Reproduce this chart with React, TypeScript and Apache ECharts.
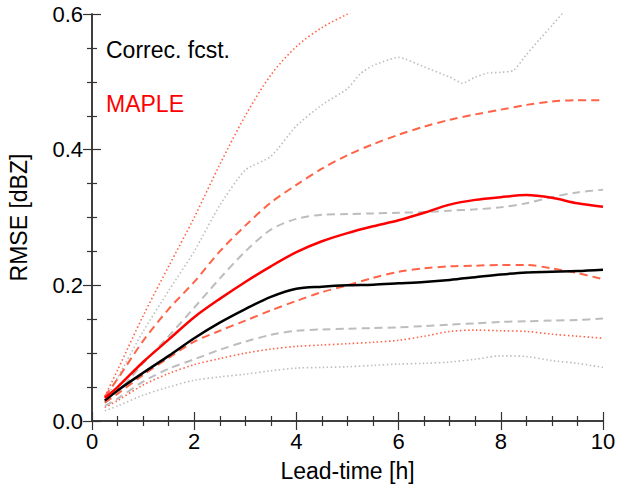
import React, { useEffect, useRef } from "react";
import * as echarts from "echarts";

// Lead times [h]
const leadTimes = [0.25, 0.5, 1, 1.5, 2, 2.5, 3, 3.5, 4, 4.5, 5, 5.5, 6, 6.5, 7, 7.5, 8, 8.5, 9, 9.5, 10];

// Corrected forecast (black / gray)
const correcMean = [0.030, 0.045, 0.071, 0.096, 0.122, 0.145, 0.165, 0.183, 0.195, 0.198, 0.200, 0.201, 0.203, 0.205, 0.208, 0.212, 0.216, 0.219, 0.220, 0.221, 0.223];
const correcDashHigh = [0.027, 0.042, 0.085, 0.125, 0.167, 0.210, 0.250, 0.282, 0.298, 0.304, 0.305, 0.306, 0.307, 0.308, 0.310, 0.312, 0.315, 0.321, 0.330, 0.337, 0.341];
const correcDashLow = [0.022, 0.033, 0.058, 0.077, 0.091, 0.105, 0.117, 0.127, 0.133, 0.135, 0.136, 0.137, 0.138, 0.140, 0.142, 0.144, 0.146, 0.147, 0.148, 0.149, 0.151];
const correcDotLow = [0.015, 0.022, 0.038, 0.050, 0.060, 0.065, 0.069, 0.074, 0.078, 0.079, 0.080, 0.082, 0.084, 0.085, 0.087, 0.091, 0.096, 0.095, 0.089, 0.085, 0.079];
const correcDotHighTimes = [0.25, 0.5, 1, 1.5, 2, 2.5, 3, 3.5, 4, 4.5, 5, 5.25, 5.5, 6, 6.5, 7, 7.25, 7.5, 7.75, 8, 8.25, 8.5, 8.75, 9, 9.25, 9.5, 10];
const correcDotHigh = [0.030, 0.064, 0.132, 0.192, 0.250, 0.318, 0.370, 0.390, 0.435, 0.466, 0.490, 0.512, 0.524, 0.536, 0.522, 0.507, 0.498, 0.507, 0.513, 0.514, 0.517, 0.540, 0.562, 0.583, 0.605, 0.630, 0.680];

// MAPLE (red)
const mapleMean = [0.034, 0.050, 0.087, 0.120, 0.153, 0.180, 0.205, 0.228, 0.249, 0.265, 0.277, 0.287, 0.296, 0.307, 0.319, 0.326, 0.330, 0.333, 0.329, 0.321, 0.316];
const mapleDashHigh = [0.036, 0.062, 0.118, 0.165, 0.205, 0.250, 0.288, 0.322, 0.348, 0.372, 0.392, 0.408, 0.422, 0.434, 0.444, 0.452, 0.459, 0.466, 0.471, 0.473, 0.473];
const mapleDashLow = [0.027, 0.040, 0.068, 0.093, 0.117, 0.133, 0.148, 0.163, 0.177, 0.190, 0.200, 0.211, 0.220, 0.225, 0.228, 0.229, 0.230, 0.230, 0.225, 0.218, 0.209];
const mapleDotLow = [0.020, 0.030, 0.053, 0.070, 0.083, 0.092, 0.100, 0.106, 0.110, 0.112, 0.114, 0.116, 0.119, 0.125, 0.132, 0.134, 0.133, 0.132, 0.128, 0.125, 0.122];
const mapleDotHigh = [0.036, 0.075, 0.155, 0.228, 0.300, 0.378, 0.450, 0.510, 0.552, 0.580, 0.600, 0.620, 0.638, 0.655, 0.670, 0.682, 0.694, 0.705, 0.715, 0.725, 0.735];

const xTicks = [0, 2, 4, 6, 8, 10];
const yTicks = [0.0, 0.2, 0.4, 0.6];

const RED = "#ff0000";
const LRED = "#ff6347";
const GRAY = "#bdbdbd";
const FONT = "Liberation Sans, Arial, Helvetica, sans-serif";

function pairs(xs: number[], ys: number[]) {
  return xs.map((x, i) => [x, ys[i]]);
}

export default function App() {
  const ref = useRef<HTMLDivElement>(null);
  useEffect(() => {
    if (!ref.current) return;
    const chart = echarts.init(ref.current, undefined, { renderer: "svg" });
    const dot = [1.5, 2.5];
    const dash = [8, 5];
    const line = (name: string, xs: number[], ys: number[], color: string, type: any, width: number, z: number, smooth: any = 0.3) => ({
      name,
      type: "line",
      data: pairs(xs, ys),
      showSymbol: false,
      symbol: "none",
      smooth,
      clip: true,
      z,
      lineStyle: { color, width, type, cap: "butt" },
    });
    const axisCommon = {
      axisLine: { show: true, lineStyle: { color: "#333", width: 1.5 } },
      axisTick: { show: true, inside: true, length: 9, lineStyle: { color: "#333", width: 1.2 } },
      minorTick: { show: true, splitNumber: 4, length: 5, lineStyle: { color: "#333", width: 1.2 } },
      splitLine: { show: false },
      minorSplitLine: { show: false },
    };
    chart.setOption({
      animation: false,
      backgroundColor: "#ffffff",
      grid: { left: 92, right: 25, top: 14, bottom: 63, containLabel: false, outerBoundsMode: "none" },
      xAxis: [
        {
          type: "value",
          min: 0,
          max: 10,
          interval: 2,
          name: "Lead-time [h]",
          nameLocation: "middle",
          nameGap: 38,
          nameTextStyle: { fontFamily: FONT, fontSize: 23, color: "#000" },
          axisLabel: { fontFamily: FONT, fontSize: 22, color: "#000", margin: 9, formatter: (v: number) => (xTicks.includes(v) ? String(v) : "") },
          ...axisCommon,
        },
        {
          type: "value",
          position: "top",
          min: 0,
          max: 10,
          interval: 2,
          axisLabel: { show: false },
          ...axisCommon,
        },
      ],
      yAxis: [
        {
          type: "value",
          min: 0,
          max: 0.6,
          interval: 0.2,
          name: "RMSE [dBZ]",
          nameLocation: "middle",
          nameGap: 62,
          nameRotate: 90,
          nameTextStyle: { fontFamily: FONT, fontSize: 23, color: "#000" },
          axisLabel: { fontFamily: FONT, fontSize: 22, color: "#000", margin: 9, formatter: (v: number) => (yTicks.some((t) => Math.abs(t - v) < 1e-9) ? v.toFixed(1) : "") },
          ...axisCommon,
        },
        {
          type: "value",
          position: "right",
          min: 0,
          max: 0.6,
          interval: 0.2,
          axisLabel: { show: false },
          ...axisCommon,
        },
      ],
      graphic: [
        { type: "text", left: 106, top: 38, style: { text: "Correc. fcst.", fill: "#000", fontSize: 23, fontFamily: FONT } },
        { type: "text", left: 106, top: 92, style: { text: "MAPLE", fill: RED, fontSize: 23, fontFamily: FONT } },
      ],
      series: [
        line("correcDotHigh", correcDotHighTimes, correcDotHigh, GRAY, dot, 1.6, 1, 0.2),
        line("correcDotLow", leadTimes, correcDotLow, GRAY, dot, 1.6, 1),
        line("mapleDotHigh", leadTimes, mapleDotHigh, LRED, dot, 1.6, 2),
        line("mapleDotLow", leadTimes, mapleDotLow, LRED, dot, 1.6, 2),
        line("correcDashHigh", leadTimes, correcDashHigh, GRAY, dash, 2, 3),
        line("correcDashLow", leadTimes, correcDashLow, GRAY, dash, 2, 3),
        line("mapleDashHigh", leadTimes, mapleDashHigh, LRED, dash, 2, 4),
        line("mapleDashLow", leadTimes, mapleDashLow, LRED, dash, 2, 4),
        line("correcMean", leadTimes, correcMean, "#000", "solid", 2.5, 5),
        line("mapleMean", leadTimes, mapleMean, RED, "solid", 2.5, 6),
      ],
    });
    return () => chart.dispose();
  }, []);
  return <div ref={ref} style={{ position: "fixed", left: 0, top: 0, width: 628, height: 484 }} />;
}
